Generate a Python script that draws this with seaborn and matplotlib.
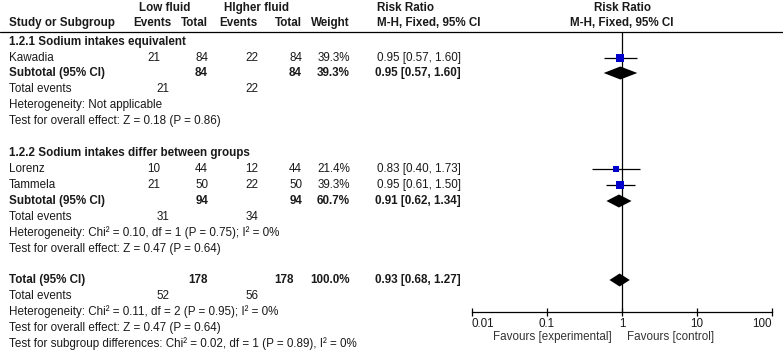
import matplotlib
matplotlib.use("Agg")
import matplotlib.pyplot as plt
import matplotlib.ticker as ticker
import pandas as pd
import seaborn as sns

# --- Data ---
GROUP_TITLES = ["1.2.1 Sodium intakes equivalent", "1.2.2 Sodium intakes differ between groups"]

STUDY_NAMES = ["Kawadia", "Lorenz", "Tammela"]
LOW_EVENTS = [21, 10, 21]
LOW_TOTAL = [84, 44, 50]
HIGH_EVENTS = [22, 12, 22]
HIGH_TOTAL = [84, 44, 50]
WEIGHTS = [39.3, 21.4, 39.3]
RR = [0.95, 0.83, 0.95]
CI_LO = [0.57, 0.40, 0.61]
CI_HI = [1.60, 1.73, 1.50]

POOLED_NAMES = ["Subtotal (95% CI)", "Subtotal (95% CI)", "Total (95% CI)"]
POOLED_LOW_TOTAL = [84, 94, 178]
POOLED_HIGH_TOTAL = [84, 94, 178]
POOLED_WEIGHT = [39.3, 60.7, 100.0]
POOLED_RR = [0.95, 0.91, 0.93]
POOLED_LO = [0.57, 0.62, 0.68]
POOLED_HI = [1.60, 1.34, 1.27]
POOLED_LOW_EVENTS = [21, 31, 52]
POOLED_HIGH_EVENTS = [22, 34, 56]

HETEROGENEITY = [
    "Heterogeneity: Not applicable",
    "Heterogeneity: Chi² = 0.10, df = 1 (P = 0.75); I² = 0%",
    "Heterogeneity: Chi² = 0.11, df = 2 (P = 0.95); I² = 0%",
]
OVERALL_TEST = [
    "Test for overall effect: Z = 0.18 (P = 0.86)",
    "Test for overall effect: Z = 0.47 (P = 0.64)",
    "Test for overall effect: Z = 0.47 (P = 0.64)",
]
SUBGROUP_TEST = "Test for subgroup differences: Chi² = 0.02, df = 1 (P = 0.89), I² = 0%"

AXIS_TICKS = [0.01, 0.1, 1, 10, 100]
AXIS_LABELS = ["0.01", "0.1", "1", "10", "100"]

# --- Layout (pixels) ---
W, H = 783, 352
TITLE_Y = [42, 153]
STUDY_Y = [58, 169, 185]
POOLED_Y = [73, 201, 280]
EVENTS_Y = [89, 217, 296]
HET_Y = [105, 233, 312]
TEST_Y = [121, 249, 328]
SUBGROUP_Y = 344
AX_L, AX_R, AX_T, AX_B = 472, 772, 32, 312

X_NAME, X_LE, X_LT, X_HE, X_HT, X_W, X_CI = 9, 160, 208, 258, 302, 350, 461
FS = 8.4
TXT = "#1a1a1a"
BLUE = "#0000CC"

sns.set_theme(style="white")
plt.rcParams["font.family"] = ["Liberation Sans", "DejaVu Sans"]

fig = plt.figure(figsize=(W / 100, H / 100), dpi=100)
canvas = fig.add_axes([0, 0, 1, 1])
canvas.set_xlim(0, W)
canvas.set_ylim(H, 0)
canvas.axis("off")


def put(x, y, s, ha="left", bold=False, color=TXT):
    canvas.text(x, y, s, ha=ha, va="center", fontsize=FS,
                fontweight="bold" if bold else "normal", color=color)


# header
put(165, 8, "Low fluid", ha="center", bold=True)
put(256, 8, "HIgher fluid", ha="center", bold=True)
put(377, 8, "Risk Ratio", bold=True)
put(622, 8, "Risk Ratio", ha="center", bold=True)
put(X_NAME, 23, "Study or Subgroup", bold=True)
put(172, 23, "Events", ha="right", bold=True)
put(X_LT, 23, "Total", ha="right", bold=True)
put(X_HE, 23, "Events", ha="right", bold=True)
put(X_HT, 23, "Total", ha="right", bold=True)
put(X_W, 23, "Weight", ha="right", bold=True)
put(377, 23, "M-H, Fixed, 95% CI", bold=True)
put(622, 23, "M-H, Fixed, 95% CI", ha="center", bold=True)
canvas.plot([0, W], [AX_T, AX_T], color="black", lw=0.9)

for t, y in zip(GROUP_TITLES, TITLE_Y):
    put(X_NAME, y, t, bold=True)

for i, y in enumerate(STUDY_Y):
    put(X_NAME, y, STUDY_NAMES[i])
    put(X_LE, y, str(LOW_EVENTS[i]), ha="right")
    put(X_LT, y, str(LOW_TOTAL[i]), ha="right")
    put(X_HE, y, str(HIGH_EVENTS[i]), ha="right")
    put(X_HT, y, str(HIGH_TOTAL[i]), ha="right")
    put(X_W, y, f"{WEIGHTS[i]:.1f}%", ha="right")
    put(X_CI, y, f"{RR[i]:.2f} [{CI_LO[i]:.2f}, {CI_HI[i]:.2f}]", ha="right")

for i, y in enumerate(POOLED_Y):
    put(X_NAME, y, POOLED_NAMES[i], bold=True)
    put(X_LT, y, str(POOLED_LOW_TOTAL[i]), ha="right", bold=True)
    put(X_HT if i < 2 else 294, y, str(POOLED_HIGH_TOTAL[i]), ha="right", bold=True)
    put(X_W, y, f"{POOLED_WEIGHT[i]:.1f}%", ha="right", bold=True)
    put(X_CI, y, f"{POOLED_RR[i]:.2f} [{POOLED_LO[i]:.2f}, {POOLED_HI[i]:.2f}]", ha="right", bold=True)
    put(X_NAME, EVENTS_Y[i], "Total events")
    put(169, EVENTS_Y[i], str(POOLED_LOW_EVENTS[i]), ha="right")
    put(X_HE, EVENTS_Y[i], str(POOLED_HIGH_EVENTS[i]), ha="right")
    put(X_NAME, HET_Y[i], HETEROGENEITY[i])
    put(X_NAME, TEST_Y[i], OVERALL_TEST[i])
put(X_NAME, SUBGROUP_Y, SUBGROUP_TEST)

# --- forest panel ---
fx = fig.add_axes([AX_L / W, 1 - AX_B / H, (AX_R - AX_L) / W, (AX_B - AX_T) / H])
fx.patch.set_alpha(0)
fx.set_xscale("log")

fx.axvline(1, color="black", lw=0.9, zorder=1)
fx.hlines(STUDY_Y, CI_LO, CI_HI, color="black", lw=0.9, zorder=2)

studies = pd.DataFrame({"rr": RR, "y": STUDY_Y, "weight": WEIGHTS})
sns.scatterplot(data=studies, x="rr", y="y", size="weight", sizes=(0, 33),
                size_norm=(0, max(WEIGHTS)), marker="s", color=BLUE,
                linewidth=0, legend=False, ax=fx, zorder=3)

for lo, mid, hi, y in zip(POOLED_LO, POOLED_RR, POOLED_HI, POOLED_Y):
    fx.fill([lo, mid, hi, mid], [y, y - 6.5, y, y + 6.5], color="black", lw=0, zorder=3)

fx.set_xlim(0.01, 100)
fx.set_ylim(AX_B, AX_T)
fx.set_xlabel("")
fx.set_ylabel("")
fx.set_yticks([])
for side in ["top", "left", "right"]:
    fx.spines[side].set_visible(False)
fx.spines["bottom"].set_color("black")
fx.spines["bottom"].set_linewidth(0.9)
fx.set_xticks(AXIS_TICKS)
fx.set_xticklabels(AXIS_LABELS)
fx.xaxis.set_minor_locator(ticker.NullLocator())
fx.tick_params(axis="x", direction="inout", length=6, width=0.9, color="black",
               pad=1, labelsize=FS, labelcolor=TXT, bottom=True)
labels = fx.get_xticklabels()
labels[0].set_horizontalalignment("left")
labels[-1].set_horizontalalignment("right")

put(612, 337, "Favours [experimental]", ha="right", color="#333333")
put(627, 337, "Favours [control]", ha="left", color="#333333")

fig.savefig("out.png", dpi=100)
